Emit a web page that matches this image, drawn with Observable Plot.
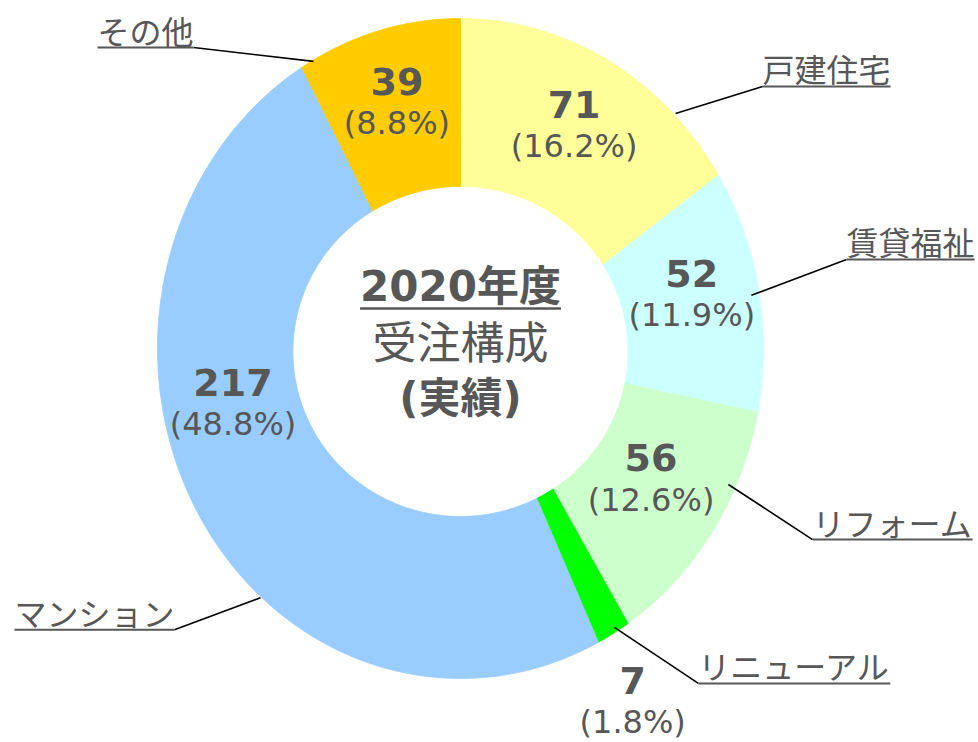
<!DOCTYPE html>
<html><head><meta charset="utf-8">
<script src="https://cdn.jsdelivr.net/npm/d3@7"></script>
<script src="https://cdn.jsdelivr.net/npm/@observablehq/plot@0.6"></script>
<style>
body{margin:0;background:#fff;}
#chart{width:978px;height:742px;}
</style>
</head><body><div id="chart"></div>
<script>
// ---- data ----
const categories = ["戸建住宅", "賃貸福祉", "リフォーム", "リニューアル", "マンション", "その他"];
const values = [71, 52, 56, 7, 217, 39];
const percents = [16.2, 11.9, 12.6, 1.8, 48.8, 8.8];
const centerLines = ["2020年度", "受注構成", "(実績)"];

// ---- style / layout ----
const colors = ["#FFFF99", "#CCFFFF", "#CCFFCC", "#00FF00", "#99CCFF", "#FFCC00"];
const textColor = "#575757";
const W = 978, H = 742;
const CX = 460, CY = 348, RX = 303, RY = 330;       // outer ring (px)
const innerRx = 0.553, innerRy = 0.5, innerDy = -0.009; // inner hole (normalized)
const labelRadius = [0.77, 0.78, 0.745, 1.215, 0.77, 0.77];
const labelShiftDeg = [0, -1.5, -1.3, 2.5, 16.6, 0];
// leader lines: start on ring, elbow at underline end (normalized units), side of label
const leaderStart = [[0.710, 0.712], [0.960, 0.161], [0.884, -0.412], [0.508, -0.845], [-0.660, -0.755], [-0.485, 0.870]];
const leaderElbow = [[0.997, 0.794], [1.274, 0.270], [1.162, -0.579], [0.785, -1.015], [-0.944, -0.852], [-0.881, 0.912]];
const labelSide = ["right", "right", "right", "right", "left", "left"];

const latinFont = "'DejaVu Sans', 'Noto Sans CJK JP', sans-serif";
const cjkFont = "'Noto Sans CJK JP', sans-serif";
const catFontSize = 32;

const ctx = document.createElement("canvas").getContext("2d");
function measure(text, font) { ctx.font = font; return ctx.measureText(text).width; }

// ---- slices ----
const pie = d3.pie().sort(null).value(d => d.pct).startAngle(0).endAngle(2 * Math.PI);
const rows = categories.map((c, i) => ({key: c, value: values[i], pct: percents[i], i}));
const arcs = pie(rows);

const ringPts = [];
for (const a of arcs) {
  const n = Math.max(2, Math.ceil((a.endAngle - a.startAngle) * 180 / Math.PI));
  for (let k = 0; k <= n; k++) {
    const t = a.startAngle + (a.endAngle - a.startAngle) * k / n;
    ringPts.push({key: a.data.key, x: Math.sin(t), y: Math.cos(t)});
  }
  for (let k = n; k >= 0; k--) {
    const t = a.startAngle + (a.endAngle - a.startAngle) * k / n;
    ringPts.push({key: a.data.key, x: Math.sin(t) * innerRx, y: Math.cos(t) * innerRy + innerDy});
  }
}

const valueLabels = arcs.map((a, i) => {
  const t = (a.startAngle + a.endAngle) / 2 + labelShiftDeg[i] * Math.PI / 180;
  return {x: Math.sin(t) * labelRadius[i], y: Math.cos(t) * labelRadius[i],
          v: String(a.data.value), p: `(${a.data.pct.toFixed(1)}%)`};
});

const catLabels = categories.map((c, i) => {
  const w = measure(c, `${catFontSize}px ${cjkFont}`) / RX;
  const [ex, ey] = leaderElbow[i];
  const right = labelSide[i] === "right";
  return {text: c, sx: leaderStart[i][0], sy: leaderStart[i][1], ex, ey,
          ux2: right ? ex + w : ex - w, right};
});

const titleW = measure(centerLines[0], `bold 42px ${latinFont}`) / RX;

const catText = (filter, anchor) => Plot.text(catLabels, {
  filter, x: "ex", y: "ey", text: "text", textAnchor: anchor, lineAnchor: "bottom", dy: -4,
  fontSize: catFontSize, fill: textColor, fontFamily: cjkFont});

const plot = Plot.plot({
  width: W, height: H,
  margin: 0,
  x: {domain: [-1, 1], range: [CX - RX, CX + RX], axis: null},
  y: {domain: [-1, 1], range: [CY + RY, CY - RY], axis: null},
  color: {domain: categories, range: colors},
  marks: [
    Plot.line(ringPts, {x: "x", y: "y", z: "key", fill: "key", stroke: "key", strokeWidth: 0.8, curve: "linear"}),
    // value labels
    Plot.text(valueLabels, {x: "x", y: "y", text: "v", dy: -21, fontSize: 38, fontWeight: "bold", fill: textColor, fontFamily: latinFont}),
    Plot.text(valueLabels, {x: "x", y: "y", text: "p", dy: 20, fontSize: 32, fill: textColor, fontFamily: latinFont}),
    // leader lines
    Plot.link(catLabels, {x1: "sx", y1: "sy", x2: "ex", y2: "ey", stroke: "#000", strokeWidth: 1.6}),
    // underlines
    Plot.link(catLabels, {x1: "ex", y1: "ey", x2: "ux2", y2: "ey", stroke: textColor, strokeWidth: 2}),
    catText(d => d.right, "start"),
    catText(d => !d.right, "end"),
    // center title
    Plot.text([centerLines[0]], {x: () => 0, y: () => 0, text: d => d, dy: -61, fontSize: 42, fontWeight: "bold", fill: textColor, fontFamily: latinFont}),
    Plot.link([0], {x1: -titleW / 2, x2: titleW / 2, y1: 0, y2: 0, dy: -40, stroke: textColor, strokeWidth: 2.5}),
    Plot.text([centerLines[1]], {x: () => 0, y: () => 0, text: d => d, dy: -4, fontSize: 44, fill: textColor, fontFamily: cjkFont}),
    Plot.text([centerLines[2]], {x: () => 0, y: () => 0, text: d => d, dy: 51, fontSize: 42, fontWeight: "bold", fill: textColor, fontFamily: latinFont})
  ]
});
document.getElementById("chart").appendChild(plot);
</script>
</body></html>
